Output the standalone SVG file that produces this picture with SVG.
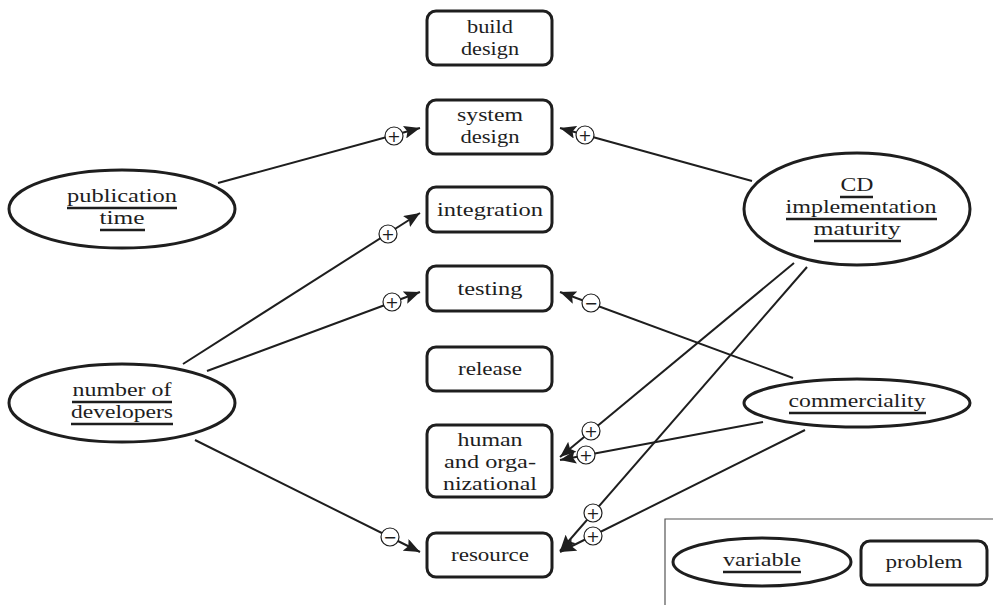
<svg xmlns="http://www.w3.org/2000/svg" width="993" height="605" viewBox="0 0 993 605">
<style>
.box{fill:#fff;stroke:#1e1e1e;stroke-width:3}
.var{fill:#fff;stroke:#1e1e1e;stroke-width:3}
.t{font-family:"Liberation Serif","DejaVu Serif","Times New Roman",serif;font-size:19px;fill:#1e1e1e;text-anchor:middle}
.ul{stroke:#1e1e1e;stroke-width:2.4}
.c{stroke:#1e1e1e;stroke-width:2;fill:none}
.sc{fill:#fff;stroke:#1e1e1e;stroke-width:1.2}
.sg{font-family:"DejaVu Sans","Liberation Sans",sans-serif;font-size:16px;fill:#1e1e1e;text-anchor:middle;dominant-baseline:central}
.frame{stroke:#555;stroke-width:1.2;fill:none}
</style>
<defs>
<marker id="ah" markerUnits="userSpaceOnUse" markerWidth="17" markerHeight="13" refX="16" refY="6.5" orient="auto">
<path d="M0,0 L16,6.5 L0,13 L3,6.5 z" fill="#1e1e1e"/>
</marker>
</defs>
<rect width="993" height="605" fill="#fff"/>

<g id="connectors">
<line class="c" x1="218" y1="183" x2="420" y2="128" marker-end="url(#ah)"/>
<line class="c" x1="752" y1="181" x2="560" y2="128" marker-end="url(#ah)"/>
<line class="c" x1="183" y1="364" x2="420" y2="213" marker-end="url(#ah)"/>
<line class="c" x1="207" y1="371" x2="420" y2="292" marker-end="url(#ah)"/>
<line class="c" x1="195" y1="440" x2="420" y2="552" marker-end="url(#ah)"/>
<line class="c" x1="793" y1="378" x2="560" y2="292" marker-end="url(#ah)"/>
<line class="c" x1="794" y1="263" x2="560" y2="457" marker-end="url(#ah)"/>
<line class="c" x1="763" y1="422" x2="560" y2="460" marker-end="url(#ah)"/>
<line class="c" x1="807" y1="267" x2="560" y2="551" marker-end="url(#ah)"/>
<line class="c" x1="805" y1="430" x2="560" y2="552" marker-end="url(#ah)"/>
<circle class="sc" cx="394" cy="136" r="9"/><text class="sg" x="394" y="136">+</text>
<circle class="sc" cx="585" cy="135" r="9"/><text class="sg" x="585" y="135">+</text>
<circle class="sc" cx="388" cy="234" r="9"/><text class="sg" x="388" y="234">+</text>
<circle class="sc" cx="392" cy="302" r="9"/><text class="sg" x="392" y="302">+</text>
<circle class="sc" cx="390" cy="537" r="9"/><text class="sg" x="390" y="537">−</text>
<circle class="sc" cx="591" cy="303" r="9"/><text class="sg" x="591" y="303">−</text>
<circle class="sc" cx="591" cy="431" r="9"/><text class="sg" x="591" y="431">+</text>
<circle class="sc" cx="586" cy="455" r="9"/><text class="sg" x="586" y="455">+</text>
<circle class="sc" cx="593" cy="513" r="9"/><text class="sg" x="593" y="513">+</text>
<circle class="sc" cx="593" cy="536" r="9"/><text class="sg" x="593" y="536">+</text>
</g>

<g id="build-design">
<rect class="box" x="427" y="11" width="125" height="54" rx="9"/>
<text class="t" x="490" y="33" textLength="46" lengthAdjust="spacingAndGlyphs">build</text>
<text class="t" x="490" y="55" textLength="58" lengthAdjust="spacingAndGlyphs">design</text>
</g>
<g id="system-design">
<rect class="box" x="427" y="100" width="125" height="54" rx="9"/>
<text class="t" x="490" y="121" textLength="66" lengthAdjust="spacingAndGlyphs">system</text>
<text class="t" x="490" y="143" textLength="59" lengthAdjust="spacingAndGlyphs">design</text>
</g>
<g id="integration">
<rect class="box" x="427" y="187" width="125" height="45" rx="9"/>
<text class="t" x="490" y="216" textLength="106" lengthAdjust="spacingAndGlyphs">integration</text>
</g>
<g id="testing">
<rect class="box" x="427" y="266" width="125" height="45" rx="9"/>
<text class="t" x="490" y="295" textLength="65" lengthAdjust="spacingAndGlyphs">testing</text>
</g>
<g id="release">
<rect class="box" x="427" y="347" width="125" height="44" rx="9"/>
<text class="t" x="490" y="375" textLength="64" lengthAdjust="spacingAndGlyphs">release</text>
</g>
<g id="human-and-organizational">
<rect class="box" x="427" y="425" width="125" height="72" rx="9"/>
<text class="t" x="490" y="446" textLength="65" lengthAdjust="spacingAndGlyphs">human</text>
<text class="t" x="490" y="468" textLength="92" lengthAdjust="spacingAndGlyphs">and orga-</text>
<text class="t" x="490" y="490" textLength="94" lengthAdjust="spacingAndGlyphs">nizational</text>
</g>
<g id="resource">
<rect class="box" x="427" y="533" width="125" height="44" rx="9"/>
<text class="t" x="490" y="561" textLength="78" lengthAdjust="spacingAndGlyphs">resource</text>
</g>

<g id="publication-time">
<ellipse class="var" cx="122" cy="209" rx="113" ry="39"/>
<text class="t" x="122" y="202" textLength="110" lengthAdjust="spacingAndGlyphs">publication</text>
<line class="ul" x1="67" y1="208" x2="177" y2="208"/>
<text class="t" x="122" y="224" textLength="45" lengthAdjust="spacingAndGlyphs">time</text>
<line class="ul" x1="100" y1="230" x2="145" y2="230"/>
</g>
<g id="number-of-developers">
<ellipse class="var" cx="122" cy="403" rx="113" ry="39"/>
<text class="t" x="122" y="396" textLength="99" lengthAdjust="spacingAndGlyphs">number of</text>
<line class="ul" x1="72" y1="402" x2="172" y2="402"/>
<text class="t" x="122" y="418" textLength="102" lengthAdjust="spacingAndGlyphs">developers</text>
<line class="ul" x1="71" y1="424" x2="173" y2="424"/>
</g>
<g id="cd-implementation-maturity">
<ellipse class="var" cx="857" cy="209" rx="113" ry="56"/>
<text class="t" x="857" y="191" textLength="33" lengthAdjust="spacingAndGlyphs">CD</text>
<line class="ul" x1="840" y1="197" x2="873" y2="197"/>
<text class="t" x="861" y="213" textLength="151" lengthAdjust="spacingAndGlyphs">implementation</text>
<line class="ul" x1="786" y1="219" x2="937" y2="219"/>
<text class="t" x="857" y="235" textLength="87" lengthAdjust="spacingAndGlyphs">maturity</text>
<line class="ul" x1="814" y1="241" x2="901" y2="241"/>
</g>
<g id="commerciality">
<ellipse class="var" cx="857" cy="403" rx="113" ry="24"/>
<text class="t" x="857" y="407" textLength="137" lengthAdjust="spacingAndGlyphs">commerciality</text>
<line class="ul" x1="789" y1="413" x2="926" y2="413"/>
</g>

<g id="legend">
<path class="frame" d="M665,605 V519 H993"/>
<g id="legend-variable">
<ellipse class="var" cx="762" cy="562" rx="89" ry="24"/>
<text class="t" x="762" y="566" textLength="78" lengthAdjust="spacingAndGlyphs">variable</text>
<line class="ul" x1="723" y1="572" x2="801" y2="572"/>
</g>
<g id="legend-problem">
<rect class="box" x="861" y="541" width="126" height="44" rx="9"/>
<text class="t" x="924" y="568" textLength="77" lengthAdjust="spacingAndGlyphs">problem</text>
</g>
</g>
</svg>
